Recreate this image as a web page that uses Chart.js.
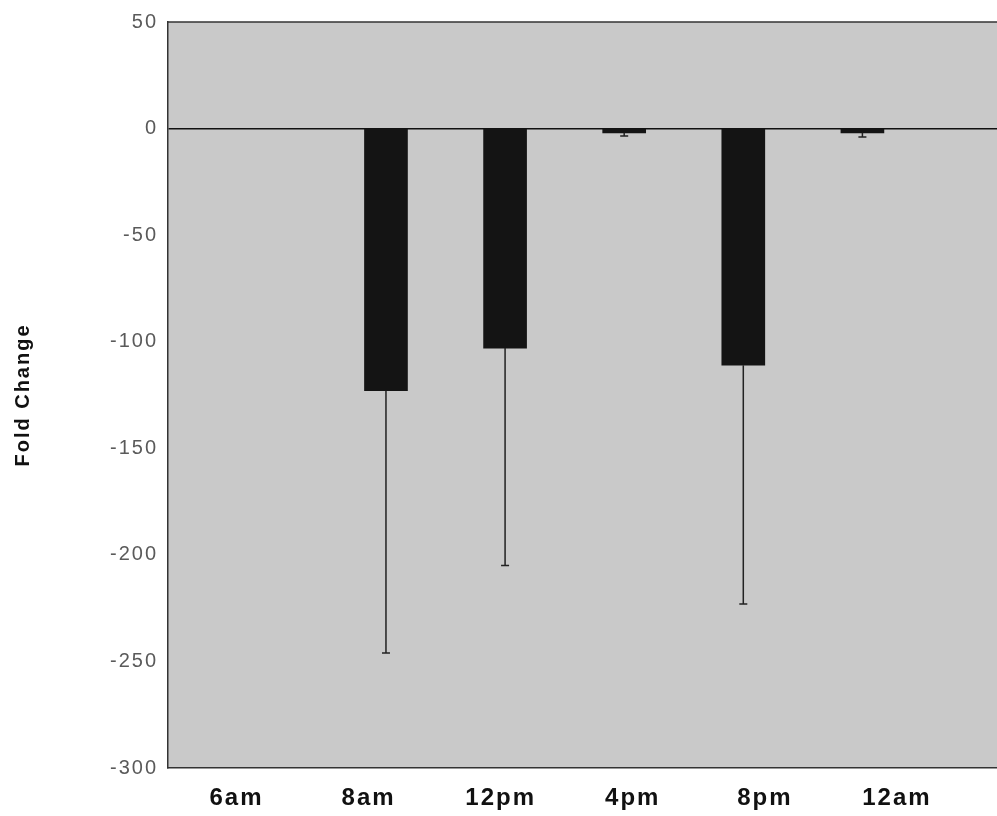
<!DOCTYPE html>
<html>
<head>
<meta charset="utf-8">
<script src="https://cdn.jsdelivr.net/npm/chart.js@4.4.1/dist/chart.umd.min.js"></script>
<style>
  html, body { margin: 0; padding: 0; background: #fff; overflow: hidden; }
  #wrap { position: relative; width: 997px; height: 816px; }
</style>
</head>
<body>
<div id="wrap"><canvas id="foldChart"></canvas></div>
<script>
// Time points and measured fold change (mean and one-sided error)
const timePoints = ['6am', '8am', '12pm', '4pm', '8pm', '12am'];
const foldChange = [0, -123, -103, -2, -111, -2];
const foldError = [0, 123, 102, 1.5, 112, 2];
const yTicks = [50, 0, -50, -100, -150, -200, -250, -300];

// Labels sit on their own, slightly wider grid than the bars
const labelStart = -0.255;
const labelStep = 1.109;

const FONT = 'Liberation Sans, Arial, sans-serif';

// Gray plot background, top frame line, and wide-spaced lettering
const plotBackground = {
    id: 'plotBackground',
    beforeDraw(chart) {
        const { ctx, chartArea: a } = chart;
        ctx.save();
        ctx.fillStyle = '#c9c9c9';
        ctx.fillRect(a.left, a.top, a.right - a.left, a.bottom - a.top);
        ctx.restore();
        ctx.letterSpacing = '2px';
    },
    afterDraw(chart) {
        const { ctx, chartArea: a } = chart;
        ctx.letterSpacing = '0px';
        ctx.save();
        ctx.strokeStyle = '#333';
        ctx.lineWidth = 1.5;
        ctx.beginPath();
        ctx.moveTo(a.left, a.top);
        ctx.lineTo(a.right, a.top);
        ctx.stroke();
        ctx.restore();
    }
};

// Downward error bars with a small cap
const errorBars = {
    id: 'errorBars',
    afterDatasetsDraw(chart) {
        const { ctx } = chart;
        const yScale = chart.scales.y;
        const meta = chart.getDatasetMeta(0);
        ctx.save();
        ctx.strokeStyle = '#222';
        ctx.lineWidth = 1.5;
        meta.data.forEach((bar, i) => {
            if (!foldError[i]) return;
            const y0 = yScale.getPixelForValue(foldChange[i]);
            const y1 = yScale.getPixelForValue(foldChange[i] - foldError[i]);
            ctx.beginPath();
            ctx.moveTo(bar.x, y0);
            ctx.lineTo(bar.x, y1);
            ctx.moveTo(bar.x - 4, y1);
            ctx.lineTo(bar.x + 4, y1);
            ctx.stroke();
        });
        ctx.restore();
    }
};

const ctx = document.getElementById('foldChart').getContext('2d');
new Chart(ctx, {
    type: 'bar',
    data: {
        datasets: [{
            data: timePoints.map((t, i) => ({ x: i, y: foldChange[i] })),
            backgroundColor: '#141414',
            borderWidth: 0,
            barThickness: 43
        }]
    },
    options: {
        responsive: true,
        maintainAspectRatio: false,
        animation: false,
        layout: { padding: { top: 17, left: 11, right: 0, bottom: 0 } },
        plugins: {
            legend: { display: false },
            tooltip: { enabled: false }
        },
        scales: {
            x: {
                type: 'linear',
                offset: false,
                min: -0.83,
                max: 6.13,
                afterBuildTicks: (scale) => {
                    scale.ticks = timePoints.map((_, i) => ({ value: labelStart + i * labelStep }));
                },
                afterFit: (scale) => { scale.height = 48; },
                grid: { display: false, drawTicks: false },
                border: { display: true, color: '#333', width: 1.5 },
                ticks: {
                    autoSkip: false,
                    maxRotation: 0,
                    padding: 16,
                    color: '#111',
                    font: { family: FONT, size: 24, weight: 'bold' },
                    callback: (v, i) => timePoints[i] ?? ''
                }
            },
            y: {
                min: -300,
                max: 50,
                afterBuildTicks: (scale) => {
                    scale.ticks = yTicks.map(v => ({ value: v }));
                },
                afterFit: (scale) => { scale.width = 157; },
                grid: {
                    drawTicks: false,
                    lineWidth: 1.5,
                    color: (c) => c.tick && c.tick.value === 0 ? '#111' : 'transparent'
                },
                border: { display: true, color: '#333', width: 1.5 },
                ticks: {
                    padding: 10,
                    color: '#5a5a5a',
                    font: { family: FONT, size: 20 }
                },
                title: {
                    display: true,
                    text: 'Fold Change',
                    color: '#111',
                    padding: { top: 0, bottom: 0 },
                    font: { family: FONT, size: 20, weight: 'bold' }
                }
            }
        }
    },
    plugins: [plotBackground, errorBars]
});
</script>
</body>
</html>
